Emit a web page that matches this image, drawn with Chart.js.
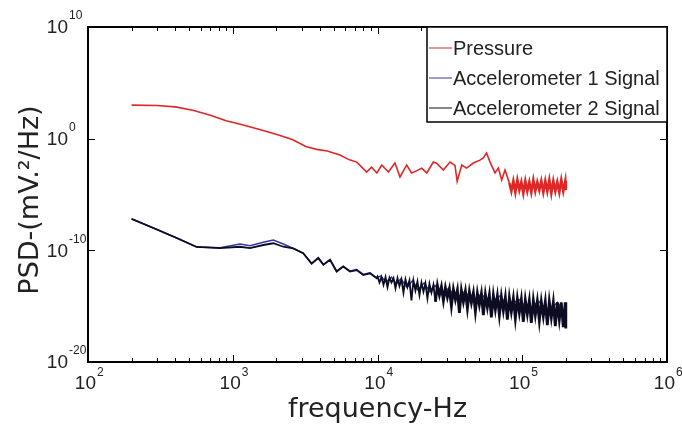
<!DOCTYPE html>
<html>
<head>
<meta charset="utf-8">
<script src="https://cdn.jsdelivr.net/npm/chart.js@4.4.1/dist/chart.umd.min.js"></script>
<style>
  body { margin: 0; background: #fff; }
  #wrap { width: 682px; height: 428px; }
</style>
</head>
<body>
<div id="wrap"><canvas id="psd" width="682" height="428"></canvas></div>
<script>
// values (frequency in Hz, PSD in mV^2/Hz)
const pressureFreq = [200, 300, 400, 530, 700, 900, 1200, 1600, 2100, 2600, 3200, 3800, 4500, 5500, 6400, 7200,
    8400, 9100, 9900, 10700, 11900, 13200, 14300, 15900, 17200, 18600, 20200, 21900, 24300, 25600, 28500,
    31700, 34300, 35500, 38200, 41300, 45900, 51000, 53800, 56700, 59900, 64800, 68400, 72100, 76000,
    81450, 84080, 86790, 89600, 92490, 95480, 98560, 101700, 105000, 108400, 111900, 115500, 119300, 123100,
    127100, 131200, 135400, 139800, 144300, 149000, 153800, 158800, 163900, 169200, 174700, 180300, 186100,
    192100, 198300, 200000];
const pressurePsd = [1e3, 9.3e2, 7e2, 3.5e2, 1.26e2, 40, 16, 5.6, 2, 0.8, 0.2, 0.11, 0.08, 0.035, 0.0126, 8e-3,
    1e-3, 2.8e-3, 8.5e-4, 4.4e-3, 1.05e-3, 6.6e-3, 3.7e-4, 4.4e-3, 8.5e-4, 1.3e-3, 2.3e-3, 8.5e-4, 8.1e-3, 6.3e-3, 1.55e-3,
    8.1e-3, 4e-3, 1.5e-4, 4.4e-3, 2.3e-3, 6.6e-3, 1.2e-2, 1.9e-2, 5.2e-2, 8e-3, 8.5e-4, 2.3e-3, 2e-4, 1.55e-3,
    1.1e-4, 2e-5, 1.6e-4, 1.6e-5, 2e-4, 2.5e-5, 1.3e-4, 1.3e-5, 1.6e-4, 2e-5, 1.3e-4, 1.6e-5, 2e-4, 2e-5,
    1.3e-4, 2.5e-5, 1.6e-4, 1.6e-5, 1.6e-4, 2e-5, 2e-4, 1.3e-5, 1.6e-4, 2e-5, 1.3e-4, 1.6e-5, 2e-4,
    2e-5, 1.6e-4, 2.5e-5];

const accel1Freq = [200, 283, 410, 563, 817, 1122, 1315, 1626, 1905, 2234, 2618, 3070, 3505, 3900, 4230, 4700,
    5220, 5800, 6450, 7180, 7980, 8870, 9860, 10500, 11500, 12500, 13500, 14500, 16000, 17500, 19000, 21000,
    23000, 25000, 28000, 31000, 35000, 40000, 46000, 52000, 60000, 70000, 80000, 95000, 110000, 130000,
    150000, 175000, 200000];
const accel1Psd = [6.5e-8, 1e-8, 1.26e-9, 2e-10, 1.7e-10, 3.7e-10, 2.6e-10, 5.2e-10, 8.5e-10, 3.7e-10, 1.5e-10, 5.5e-11,
    7e-12, 2.2e-11, 5.5e-12, 1.5e-11, 1.4e-12, 3.8e-12, 1.4e-12, 1.9e-12, 7e-13, 9.5e-13, 3.5e-13, 5e-13, 1.5e-13,
    4e-13, 1e-13, 2.8e-13, 5e-14, 2e-13, 3e-14, 1.2e-13, 2e-14, 7e-14, 1e-14, 4e-14, 5e-15, 2e-14, 3e-15, 1.2e-14,
    2e-15, 8e-15, 1e-15, 4e-15, 5e-16, 2.8e-15, 3e-16, 2.2e-15, 2e-16];

const accel2Freq = [200, 283, 410, 563, 817, 1122, 1315, 1626, 1905, 2234, 2618, 3070, 3505, 3900, 4230, 4700,
    5220, 5800, 6450, 7180, 7980, 8870, 9860,
    10000, 10320, 10650, 11000, 11360, 11720, 12100, 12490, 12900, 13310, 13740, 14180, 14640, 15110, 15600,
    16100, 16620, 17160, 17710, 18290, 18880, 19490, 20120, 20770, 21440, 22130, 22840, 23580, 24340, 25130,
    25940, 26780, 27640, 28530, 29450, 30400, 31380, 32400, 33450, 34530, 35640, 36790, 37980, 39210, 40480,
    41790, 43140, 44530, 45970, 47450, 48980, 50560, 52200, 53880, 55620, 57420, 59270, 61190, 63160, 65200,
    67310, 69480, 71730, 74040, 76430, 78900, 81450, 84080, 86790, 89600, 92490, 95480, 98560, 101700, 105000,
    108400, 111900, 115500, 119300, 123100, 127100, 131200, 135400, 139800, 144300, 149000, 153800, 158800,
    163900, 169200, 174700, 180300, 186100, 192100, 198300, 200000];
const accel2Psd = [6.5e-8, 1e-8, 1.26e-9, 2e-10, 1.6e-10, 2.1e-10, 1.6e-10, 3e-10, 4.3e-10, 2.1e-10, 1.5e-10, 5.5e-11,
    6.3e-12, 2e-11, 5e-12, 1.4e-11, 1.26e-12, 3.5e-12, 1.26e-12, 1.7e-12, 6.3e-13, 8.7e-13, 3.2e-13,
    4.5e-13, 1.3e-13, 4e-13, 8e-14, 4e-13, 5e-14, 3.5e-13, 1.3e-13, 3.2e-13, 4e-14, 3.2e-13, 6.3e-14, 2.5e-13,
    1.6e-14, 2.5e-13, 5e-14, 2e-13, 3.2e-15, 2e-13, 2.5e-14, 1.6e-13, 1e-14, 1.3e-13, 2e-14, 1.1e-13, 5e-15,
    1e-13, 1.6e-14, 8e-14, 2.5e-15, 7e-14, 1e-14, 5.6e-14, 3.2e-15, 4.5e-14, 6.3e-15, 3.5e-14, 1e-15, 3.2e-14,
    4e-15, 2.8e-14, 2.5e-16, 2.5e-14, 2.5e-15, 2.2e-14, 6.3e-16, 2e-14, 2e-15, 1.6e-14, 3.2e-16, 1.4e-14,
    1.3e-15, 1.3e-14, 1.6e-16, 1.1e-14, 8e-16, 1e-14, 1e-16, 9e-15, 5e-16, 8e-15, 1.6e-16, 7e-15, 4e-16,
    6.3e-15, 6.3e-17, 5.6e-15, 3.2e-16, 5e-15, 8e-17, 4.5e-15, 2.5e-16, 4e-15, 4e-17, 3.5e-15, 2e-16, 3.2e-15,
    3.2e-17, 3.2e-15, 1.6e-16, 2.8e-15, 5e-17, 2.5e-15, 1.3e-16, 2.5e-15, 2e-17, 2.5e-15, 1e-16, 2.2e-15,
    1.6e-17, 2.2e-15, 6.3e-17, 2.2e-15, 1.3e-17, 2.2e-15, 1e-17];

const seriesNames = ['Pressure', 'Accelerometer 1 Signal', 'Accelerometer 2 Signal'];
const xTicks = [1e2, 1e3, 1e4, 1e5, 1e6];
const xTickExp = ['2', '3', '4', '5', '6'];
const yTicks = [1e-20, 1e-10, 1e0, 1e10];
const yTickExp = ['-20', '-10', '0', '10'];

function toPoints(freq, psd) {
    return freq.map((f, i) => ({ x: f, y: psd[i] }));
}

// thicker stroke where the spectrum turns into a dense noise band
function bandWidth(from, thin, thick) {
    return c => (c.p0.parsed.x >= from ? thick : thin);
}

const labelFont = '"Liberation Sans", Arial, sans-serif';

// frame, inward ticks, tick labels, titles and the boxed legend, MATLAB style
const matlabAxes = {
    id: 'matlabAxes',
    afterDatasetsDraw(chart) {
        const { ctx, chartArea: a, scales: { x, y } } = chart;
        ctx.save();
        ctx.strokeStyle = '#000';
        ctx.lineWidth = 1;
        ctx.beginPath();
        for (let k = 2; k < 6; k++) {
            for (let m = 2; m <= 9; m++) {
                const px = Math.round(x.getPixelForValue(m * Math.pow(10, k))) + 0.5;
                ctx.moveTo(px, a.bottom); ctx.lineTo(px, a.bottom - 4);
                ctx.moveTo(px, a.top); ctx.lineTo(px, a.top + 4);
            }
        }
        xTicks.forEach(v => {
            const px = Math.round(x.getPixelForValue(v)) + 0.5;
            ctx.moveTo(px, a.bottom); ctx.lineTo(px, a.bottom - 7);
            ctx.moveTo(px, a.top); ctx.lineTo(px, a.top + 7);
        });
        yTicks.forEach(v => {
            const py = Math.round(y.getPixelForValue(v)) + 0.5;
            ctx.moveTo(a.left, py); ctx.lineTo(a.left + 7, py);
            ctx.moveTo(a.right, py); ctx.lineTo(a.right - 7, py);
        });
        ctx.stroke();
        ctx.lineWidth = 2;
        ctx.strokeRect(a.left, a.top, a.right - a.left, a.bottom - a.top);

        // legend box
        const lx = 427, ly = a.top, lw = a.right - 427, lh = 95;
        ctx.fillStyle = '#fff';
        ctx.fillRect(lx, ly, lw, lh);
        ctx.lineWidth = 1.5;
        ctx.strokeRect(lx, ly, lw, lh);
        ctx.font = '20px ' + labelFont;
        ctx.textBaseline = 'middle';
        ctx.textAlign = 'left';
        chart.data.datasets.forEach((ds, i) => {
            const ry = ly + 21 + i * 30;
            ctx.strokeStyle = ds.borderColor;
            ctx.lineWidth = 1;
            ctx.beginPath();
            ctx.moveTo(lx + 2, ry); ctx.lineTo(lx + 25, ry);
            ctx.stroke();
            ctx.fillStyle = '#222';
            ctx.fillText(ds.label, lx + 26, ry + 1);
        });

        // tick labels
        ctx.fillStyle = '#222';
        xTicks.forEach((v, i) => {
            const px = x.getPixelForValue(v);
            ctx.font = '19px ' + labelFont;
            ctx.textAlign = 'right';
            ctx.fillText('10', px + 8, a.bottom + 22);
            ctx.font = '12px ' + labelFont;
            ctx.textAlign = 'left';
            ctx.fillText(xTickExp[i], px + 9, a.bottom + 11);
        });
        yTicks.forEach((v, i) => {
            const py = y.getPixelForValue(v);
            ctx.font = '19px ' + labelFont;
            ctx.textAlign = 'right';
            ctx.fillText('10', 68, py + 1);
            ctx.font = '12px ' + labelFont;
            ctx.textAlign = 'left';
            ctx.fillText(yTickExp[i], 69, py - 11);
        });

        // axis titles
        ctx.font = '27px "DejaVu Sans", sans-serif';
        ctx.textAlign = 'center';
        ctx.fillText('frequency-Hz', (a.left + a.right) / 2, a.bottom + 48);
        ctx.translate(31, 200);
        ctx.rotate(-Math.PI / 2);
        ctx.fillText('PSD-(mV.²/Hz)', 0, 0);
        ctx.restore();
    }
};

new Chart(document.getElementById('psd'), {
    type: 'line',
    data: {
        datasets: [
            {
                label: seriesNames[0],
                data: toPoints(pressureFreq, pressurePsd),
                borderColor: 'rgb(222, 40, 40)',
                borderWidth: 1.6,
                segment: { borderWidth: bandWidth(80000, 1.6, 2.6) },
                order: 1
            },
            {
                label: seriesNames[1],
                data: toPoints(accel1Freq, accel1Psd),
                borderColor: 'rgb(52, 52, 170)',
                borderWidth: 1.5,
                order: 2
            },
            {
                label: seriesNames[2],
                data: toPoints(accel2Freq, accel2Psd),
                borderColor: 'rgb(12, 12, 34)',
                borderWidth: 1.8,
                segment: { borderWidth: bandWidth(25000, 1.8, 2.8) },
                order: 0
            }
        ]
    },
    options: {
        responsive: false,
        animation: false,
        events: [],
        layout: { padding: { left: 88, top: 27, right: 15, bottom: 66 } },
        elements: { point: { radius: 0 }, line: { tension: 0 } },
        plugins: { legend: { display: false }, tooltip: { enabled: false } },
        scales: {
            x: { type: 'logarithmic', display: false, min: 1e2, max: 1e6 },
            y: { type: 'logarithmic', display: false, min: 1e-20, max: 1e10 }
        }
    },
    plugins: [matlabAxes]
});
</script>
</body>
</html>
